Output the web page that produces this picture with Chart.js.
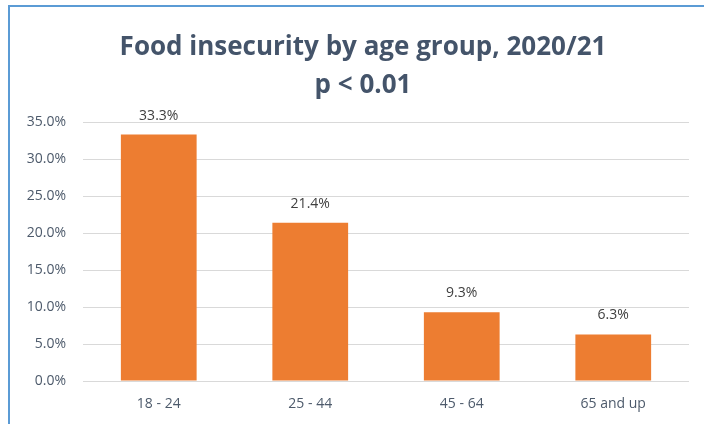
<!DOCTYPE html>
<html>
<head>
<meta charset="utf-8">
<script src="https://cdn.jsdelivr.net/npm/chart.js@4"></script>
<style>
  html, body { margin: 0; padding: 0; background: #fff; }
  #wrap { position: relative; width: 704px; height: 424px; overflow: hidden; }
  #frame { position: absolute; left: 8px; top: 5px; width: 720px; height: 440px;
           border-top: 2px solid #5B9BD5; border-left: 2px solid #5B9BD5; }
  canvas { position: absolute; left: 0; top: 0; }
</style>
</head>
<body>
<div id="wrap">
  <div id="frame"></div>
  <canvas id="chart1" width="704" height="424"></canvas>
</div>
<script>
"use strict";

const ageGroups = ['18 - 24', '25 - 44', '45 - 64', '65 and up'];
const insecurePct = [33.3, 21.4, 9.3, 6.3];
const titleLines = ['Food insecurity by age group, 2020/21', 'p < 0.01'];

// value labels above each bar + the two-line title (centred on the frame, not the canvas)
const barLabels = {
    id: 'barLabels',
    afterDatasetsDraw(chart) {
        const ctx = chart.ctx;
        const meta = chart.getDatasetMeta(0);
        ctx.save();
        ctx.font = '14px "Open Sans", sans-serif';
        ctx.fillStyle = '#404040';
        ctx.textAlign = 'center';
        ctx.textBaseline = 'middle';
        meta.data.forEach((bar, i) => {
            ctx.fillText(insecurePct[i].toFixed(1) + '%', bar.x, bar.y - 19);
        });

        ctx.font = 'bold 26px "Open Sans", sans-serif';
        ctx.fillStyle = '#44546A';
        titleLines.forEach((line, i) => {
            ctx.fillText(line, 363, 48 + i * 38);
        });
        ctx.restore();
    }
};

const config = {
    type: 'bar',
    data: {
        labels: ageGroups,
        datasets: [{
            data: insecurePct,
            backgroundColor: '#ED7D31',
            categoryPercentage: 1,
            barPercentage: 0.5
        }]
    },
    options: {
        responsive: false,
        animation: false,
        layout: { padding: { left: 0, right: 15, top: 122, bottom: 0 } },
        plugins: {
            legend: { display: false },
            tooltip: { enabled: false },
            title: { display: false }
        },
        scales: {
            y: {
                min: 0,
                max: 35,
                ticks: {
                    stepSize: 5,
                    padding: 17,
                    color: '#4D5A6B',
                    font: { family: '"Open Sans", sans-serif', size: 14 },
                    callback: v => v.toFixed(1) + '%'
                },
                grid: { color: '#D9D9D9', drawTicks: false },
                border: { display: false },
                afterFit(axis) { axis.width = 83; }
            },
            x: {
                ticks: {
                    padding: 15,
                    color: '#4D5A6B',
                    font: { family: '"Open Sans", sans-serif', size: 14 }
                },
                grid: { display: false, drawTicks: false },
                border: { display: false },
                afterFit(axis) { axis.height = 43; }
            }
        }
    },
    plugins: [barLabels]
};

new Chart(document.getElementById('chart1'), config);
</script>
</body>
</html>
